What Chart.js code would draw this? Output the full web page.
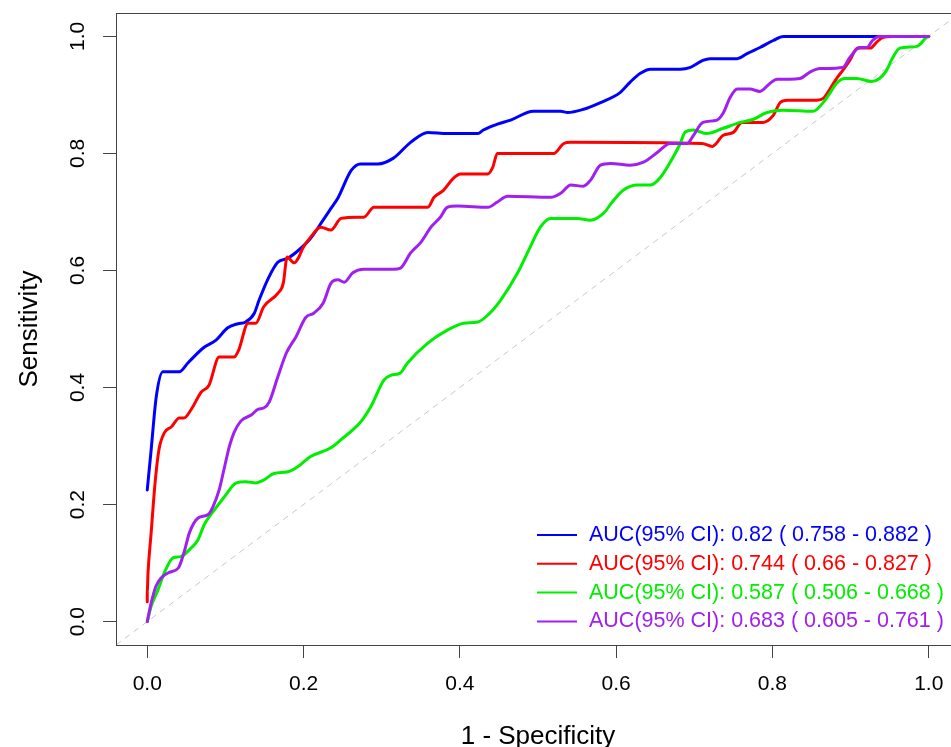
<!DOCTYPE html>
<html>
<head>
<meta charset="utf-8">
<script src="https://cdn.jsdelivr.net/npm/chart.js@4.4.1/dist/chart.umd.min.js"></script>
<style>
  html, body { margin: 0; padding: 0; background: #fff; overflow: hidden; }
  canvas { display: block; }
</style>
</head>
<body>
<canvas id="c" width="980" height="780"></canvas>
<script>
// ---- data ----
const xTicks = [0, 0.2, 0.4, 0.6, 0.8, 1.0];
const yTicks = [0, 0.2, 0.4, 0.6, 0.8, 1.0];
const xTitle = '1 - Specificity';
const yTitle = 'Sensitivity';

const legendLabels = [
  'AUC(95% CI): 0.82 ( 0.758 - 0.882 )',
  'AUC(95% CI): 0.744 ( 0.66 - 0.827 )',
  'AUC(95% CI): 0.587 ( 0.506 - 0.668 )',
  'AUC(95% CI): 0.683 ( 0.605 - 0.761 )'
];
const seriesColors = ['#0000FF', '#FF0000', '#00EE00', '#A020F0'];

const blueX = [0, 0.005, 0.0115, 0.020, 0.041, 0.052, 0.072, 0.088, 0.103, 0.116, 0.126, 0.137, 0.143, 0.155, 0.167, 0.180, 0.194, 0.209, 0.225, 0.235, 0.244, 0.261, 0.273, 0.295, 0.315, 0.337, 0.359, 0.384, 0.423, 0.430, 0.448, 0.465, 0.494, 0.529, 0.538, 0.557, 0.580, 0.605, 0.618, 0.631, 0.644, 0.682, 0.695, 0.711, 0.720, 0.755, 0.768, 0.784, 0.801, 0.814, 1.0];
const blueY = [0.225, 0.294, 0.384, 0.427, 0.427, 0.442, 0.468, 0.481, 0.502, 0.509, 0.512, 0.527, 0.549, 0.587, 0.614, 0.621, 0.635, 0.655, 0.686, 0.706, 0.724, 0.771, 0.782, 0.782, 0.792, 0.819, 0.836, 0.834, 0.834, 0.840, 0.850, 0.857, 0.872, 0.872, 0.870, 0.875, 0.887, 0.904, 0.922, 0.937, 0.944, 0.944, 0.947, 0.959, 0.962, 0.962, 0.971, 0.981, 0.993, 1.0, 1.0];

const redX = [0, 0, 0.001, 0.005, 0.010, 0.015, 0.022, 0.031, 0.041, 0.047, 0.056, 0.069, 0.079, 0.092, 0.111, 0.117, 0.129, 0.139, 0.149, 0.167, 0.174, 0.179, 0.188, 0.194, 0.199, 0.209, 0.222, 0.235, 0.248, 0.269, 0.277, 0.290, 0.359, 0.367, 0.379, 0.392, 0.401, 0.436, 0.442, 0.448, 0.520, 0.533, 0.542, 0.710, 0.723, 0.737, 0.750, 0.761, 0.788, 0.801, 0.810, 0.819, 0.857, 0.865, 0.874, 0.882, 0.890, 0.899, 0.909, 0.925, 0.934, 0.941, 0.954, 1.0];
const redY = [0.034, 0.051, 0.084, 0.152, 0.237, 0.294, 0.323, 0.333, 0.348, 0.348, 0.362, 0.392, 0.404, 0.452, 0.452, 0.464, 0.510, 0.510, 0.538, 0.561, 0.578, 0.623, 0.613, 0.623, 0.638, 0.657, 0.674, 0.669, 0.689, 0.691, 0.691, 0.708, 0.708, 0.725, 0.737, 0.758, 0.765, 0.765, 0.776, 0.800, 0.800, 0.817, 0.819, 0.817, 0.812, 0.831, 0.836, 0.853, 0.853, 0.865, 0.887, 0.891, 0.891, 0.894, 0.911, 0.928, 0.942, 0.959, 0.980, 0.980, 0.991, 0.998, 1.0, 1.0];

const greenX = [0, 0.005, 0.014, 0.022, 0.033, 0.043, 0.054, 0.065, 0.073, 0.086, 0.098, 0.114, 0.126, 0.139, 0.149, 0.162, 0.180, 0.193, 0.209, 0.235, 0.248, 0.273, 0.286, 0.303, 0.312, 0.324, 0.333, 0.359, 0.384, 0.405, 0.423, 0.436, 0.452, 0.474, 0.490, 0.503, 0.516, 0.550, 0.567, 0.584, 0.595, 0.609, 0.627, 0.644, 0.656, 0.673, 0.682, 0.688, 0.699, 0.716, 0.737, 0.759, 0.775, 0.793, 0.814, 0.852, 0.865, 0.874, 0.882, 0.893, 0.908, 0.927, 0.937, 0.946, 0.954, 0.963, 0.985, 0.997, 1.0];
const greenY = [0, 0.026, 0.055, 0.084, 0.109, 0.111, 0.123, 0.140, 0.166, 0.191, 0.212, 0.237, 0.239, 0.237, 0.242, 0.253, 0.256, 0.265, 0.282, 0.297, 0.311, 0.341, 0.367, 0.413, 0.421, 0.425, 0.442, 0.476, 0.498, 0.510, 0.512, 0.524, 0.549, 0.596, 0.640, 0.674, 0.689, 0.689, 0.686, 0.698, 0.717, 0.737, 0.746, 0.746, 0.758, 0.794, 0.817, 0.836, 0.840, 0.834, 0.843, 0.853, 0.858, 0.870, 0.874, 0.872, 0.887, 0.904, 0.920, 0.928, 0.928, 0.923, 0.928, 0.942, 0.964, 0.980, 0.983, 0.998, 1.0];

const purpleX = [0, 0.005, 0.011, 0.018, 0.028, 0.040, 0.047, 0.054, 0.065, 0.078, 0.084, 0.092, 0.098, 0.105, 0.111, 0.120, 0.133, 0.142, 0.149, 0.156, 0.167, 0.178, 0.190, 0.203, 0.213, 0.225, 0.235, 0.244, 0.252, 0.263, 0.277, 0.315, 0.324, 0.337, 0.350, 0.363, 0.375, 0.384, 0.397, 0.436, 0.448, 0.461, 0.516, 0.529, 0.542, 0.558, 0.567, 0.580, 0.593, 0.618, 0.635, 0.653, 0.669, 0.691, 0.699, 0.711, 0.729, 0.737, 0.746, 0.755, 0.771, 0.784, 0.797, 0.806, 0.822, 0.835, 0.848, 0.861, 0.890, 0.899, 0.912, 0.921, 0.928, 0.937, 1.0];
const purpleY = [0, 0.032, 0.060, 0.075, 0.084, 0.092, 0.118, 0.152, 0.177, 0.183, 0.196, 0.225, 0.259, 0.299, 0.323, 0.343, 0.353, 0.363, 0.365, 0.375, 0.418, 0.459, 0.486, 0.520, 0.527, 0.544, 0.578, 0.584, 0.580, 0.596, 0.602, 0.602, 0.604, 0.630, 0.648, 0.674, 0.691, 0.708, 0.710, 0.708, 0.717, 0.727, 0.725, 0.732, 0.746, 0.744, 0.754, 0.780, 0.783, 0.780, 0.785, 0.802, 0.817, 0.817, 0.831, 0.853, 0.857, 0.869, 0.896, 0.910, 0.910, 0.906, 0.920, 0.927, 0.927, 0.928, 0.939, 0.945, 0.947, 0.964, 0.981, 0.981, 0.993, 1.0, 1.0];

const diagX = [-0.04, 1.04];
const diagY = [-0.04, 1.04];

// ---- build chart ----
const FONT = '"Liberation Sans", Arial, Helvetica, sans-serif';
const zip = (xs, ys) => xs.map((x, i) => ({ x: x, y: ys[i] }));
const seriesData = [zip(blueX, blueY), zip(redX, redY), zip(greenX, greenY), zip(purpleX, purpleY)];

const datasets = seriesData.map((d, i) => ({
  label: legendLabels[i],
  data: d,
  borderColor: seriesColors[i],
  backgroundColor: seriesColors[i],
  borderWidth: 3,
  pointRadius: 0,
  fill: false,
  cubicInterpolationMode: 'monotone',
  borderJoinStyle: 'round',
  borderCapStyle: 'round',
  order: 4 - i
}));
datasets.push({
  label: 'diag',
  data: zip(diagX, diagY),
  borderColor: '#c8c8c8',
  borderWidth: 1,
  borderDash: [6, 5],
  pointRadius: 0,
  fill: false,
  order: 10
});

const boxAndLegend = {
  id: 'boxAndLegend',
  afterDatasetsDraw(chart) {
    const { ctx, chartArea: a } = chart;
    ctx.save();
    ctx.strokeStyle = '#444';
    ctx.lineWidth = 1;
    ctx.strokeRect(Math.round(a.left) + 0.5, Math.round(a.top) + 0.5,
                   Math.round(a.right - a.left), Math.round(a.bottom - a.top));
    // legend (bottom-right, no frame)
    const x0 = a.left + 421, x1 = a.left + 461, tx = a.left + 473;
    const y0 = a.bottom - 110, dy = 28.8;
    ctx.font = '21.5px ' + FONT;
    ctx.textBaseline = 'middle';
    ctx.textAlign = 'left';
    legendLabels.forEach((lab, i) => {
      const y = y0 + i * dy;
      ctx.strokeStyle = seriesColors[i];
      ctx.lineWidth = 2;
      ctx.beginPath();
      ctx.moveTo(x0, y);
      ctx.lineTo(x1, y);
      ctx.stroke();
      ctx.fillStyle = seriesColors[i];
      ctx.fillText(lab, tx, y);
    });
    ctx.restore();
  }
};

const setTicks = (vals) => (scale) => { scale.ticks = vals.map(v => ({ value: v })); };

new Chart(document.getElementById('c'), {
  type: 'line',
  data: { datasets: datasets },
  options: {
    responsive: false,
    animation: false,
    devicePixelRatio: 1,
    layout: { padding: { left: 0, top: 13, right: 20, bottom: 28 } },
    plugins: { legend: { display: false }, tooltip: { enabled: false } },
    scales: {
      x: {
        type: 'linear',
        min: -0.04, max: 1.04,
        afterBuildTicks: setTicks(xTicks),
        afterFit: (s) => { s.height = 107; s.paddingLeft = 0; s.paddingRight = 0; },
        grid: { drawOnChartArea: false, drawTicks: true, tickLength: 13, color: '#444', lineWidth: 1 },
        border: { display: true, color: '#444', width: 1 },
        ticks: {
          autoSkip: false, maxRotation: 0, minRotation: 0, padding: 14,
          color: '#000', font: { family: FONT, size: 21 },
          callback: (v) => Number(v).toFixed(1)
        },
        title: { display: true, text: xTitle, color: '#000', font: { family: FONT, size: 26 }, padding: 0 }
      },
      y: {
        type: 'linear',
        min: -0.04, max: 1.04,
        afterBuildTicks: setTicks(yTicks),
        afterFit: (s) => { s.width = 116; s.paddingTop = 0; s.paddingBottom = 0; },
        grid: { drawOnChartArea: false, drawTicks: true, tickLength: 13, color: '#444', lineWidth: 1 },
        border: { display: true, color: '#444', width: 1 },
        ticks: {
          autoSkip: false, minRotation: 90, maxRotation: 90, crossAlign: 'center', padding: 10,
          color: '#000', font: { family: FONT, size: 21 },
          callback: (v) => Number(v).toFixed(1)
        },
        title: { display: true, text: yTitle, color: '#000', font: { family: FONT, size: 26 }, padding: { top: 14, bottom: 0 } }
      }
    }
  },
  plugins: [boxAndLegend]
});
</script>
</body>
</html>
